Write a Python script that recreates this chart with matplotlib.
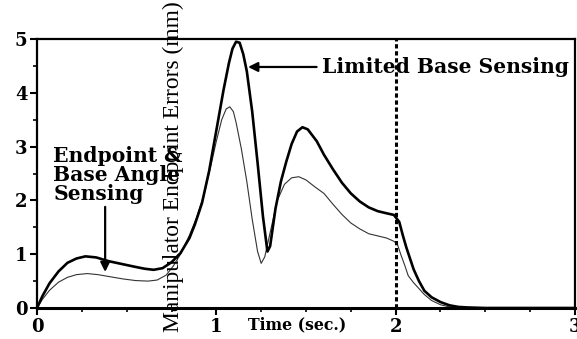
import matplotlib
matplotlib.use('Agg')
from matplotlib import pyplot as plt
from matplotlib.ticker import MultipleLocator

# limited base sensing (thick curve)
t_limited = [0.00, 0.03, 0.07, 0.12, 0.17, 0.22, 0.27, 0.33, 0.40, 0.47, 0.54, 0.60,
             0.65, 0.70, 0.75, 0.80, 0.85, 0.88, 0.92, 0.96, 1.00, 1.04, 1.07, 1.09,
             1.11, 1.13, 1.15, 1.17, 1.20, 1.23, 1.26, 1.285, 1.30, 1.33, 1.36, 1.39,
             1.42, 1.45, 1.48, 1.51, 1.56, 1.60, 1.65, 1.70, 1.75, 1.80, 1.85, 1.90,
             1.95, 1.99, 2.02, 2.04, 2.06, 2.08, 2.10, 2.13, 2.16, 2.20, 2.25, 2.30,
             2.35, 2.40, 2.50, 3.00]
e_limited = [0.00, 0.22, 0.46, 0.68, 0.84, 0.92, 0.96, 0.94, 0.87, 0.82, 0.77, 0.73,
             0.71, 0.74, 0.85, 1.02, 1.30, 1.55, 1.95, 2.55, 3.30, 4.05, 4.55, 4.82,
             4.95, 4.93, 4.72, 4.40, 3.65, 2.70, 1.70, 1.05, 1.15, 1.85, 2.35, 2.72,
             3.05, 3.28, 3.36, 3.32, 3.10, 2.85, 2.58, 2.33, 2.13, 1.98, 1.87, 1.80,
             1.76, 1.73, 1.60, 1.35, 1.12, 0.92, 0.72, 0.50, 0.32, 0.20, 0.11, 0.05,
             0.02, 0.01, 0.00, 0.00]

# endpoint & base angle sensing (thin curve)
t_endpoint = [0.00, 0.03, 0.07, 0.12, 0.17, 0.22, 0.28, 0.34, 0.41, 0.48, 0.55, 0.62,
              0.67, 0.72, 0.76, 0.80, 0.85, 0.89, 0.93, 0.97, 1.00, 1.03, 1.055, 1.075,
              1.095, 1.11, 1.14, 1.17, 1.20, 1.23, 1.25, 1.27, 1.30, 1.34, 1.38, 1.42,
              1.46, 1.50, 1.55, 1.60, 1.65, 1.70, 1.75, 1.80, 1.85, 1.90, 1.95, 1.99,
              2.01, 2.03, 2.05, 2.07, 2.10, 2.13, 2.16, 2.20, 2.25, 2.30, 2.40, 3.00]
e_endpoint = [0.00, 0.16, 0.33, 0.48, 0.57, 0.62, 0.64, 0.62, 0.58, 0.54, 0.51, 0.50,
              0.52, 0.61, 0.78, 1.00, 1.35, 1.68, 2.10, 2.65, 3.10, 3.50, 3.70, 3.74,
              3.65, 3.45, 2.95, 2.35, 1.65, 1.05, 0.83, 0.95, 1.40, 2.00, 2.30, 2.42,
              2.44, 2.38, 2.25, 2.13, 1.93, 1.74, 1.58, 1.47, 1.38, 1.34, 1.30, 1.24,
              1.18, 0.98, 0.80, 0.60, 0.47, 0.36, 0.25, 0.14, 0.06, 0.02, 0.00, 0.00]

x_ticks = [0, 1, 2, 3]
y_ticks = [0, 1, 2, 3, 4, 5]

bold = dict(family='DejaVu Serif', weight='bold')

fig = plt.figure(figsize=(5.77, 3.39), dpi=100)
ax = fig.add_axes([37 / 577, 31 / 339, 538 / 577, 269 / 339])

ax.plot(t_endpoint, e_endpoint, color='#333333', lw=0.8)
ax.plot(t_limited, e_limited, color='black', lw=1.9)
ax.axvline(2, color='black', lw=2.2, linestyle=(0, (1.4, 0.9)))

ax.set_xlim(0, 3)
ax.set_ylim(0, 5)
ax.set_xticks(x_ticks)
ax.set_yticks(y_ticks)
ax.xaxis.set_minor_locator(MultipleLocator(0.25))
ax.yaxis.set_minor_locator(MultipleLocator(0.5))
ax.tick_params(axis='both', which='major', direction='out', length=5, width=1.5,
               labelsize=13, pad=2)
ax.tick_params(axis='both', which='minor', direction='out', length=3, width=1.2)
for lab in ax.get_xticklabels() + ax.get_yticklabels():
    lab.set_fontfamily('DejaVu Serif')
    lab.set_fontweight('bold')

ax.spines['left'].set_linewidth(1.6)
ax.spines['bottom'].set_linewidth(2.2)
ax.spines['top'].set_linewidth(1.6)
ax.spines['right'].set_linewidth(1.6)

ax.text(0.76, 2.62, 'Manipulator Endpoint Errors (mm)', rotation=90,
        family='Liberation Serif', fontsize=16.9, ha='center', va='center', clip_on=False)
ax.text(1.453, -0.32, 'Time (sec.)', fontsize=11.3, ha='center', va='center',
        clip_on=False, **bold)

ax.annotate('Limited Base Sensing', xy=(1.177, 4.48), xytext=(1.59, 4.48),
            fontsize=14.6, ha='left', va='center', **bold,
            arrowprops=dict(arrowstyle='-|>', color='black', lw=1.6,
                            mutation_scale=14, shrinkA=2, shrinkB=0))
ax.text(0.09, 3.02, 'Endpoint &\nBase Angle\nSensing', fontsize=14.6, ha='left', va='top',
        linespacing=0.95, **bold)
ax.annotate('', xy=(0.38, 0.67), xytext=(0.38, 1.88),
            arrowprops=dict(arrowstyle='-|>', color='black', lw=1.6,
                            mutation_scale=14, shrinkA=0, shrinkB=0))

plt.savefig('out.png', dpi=100)
